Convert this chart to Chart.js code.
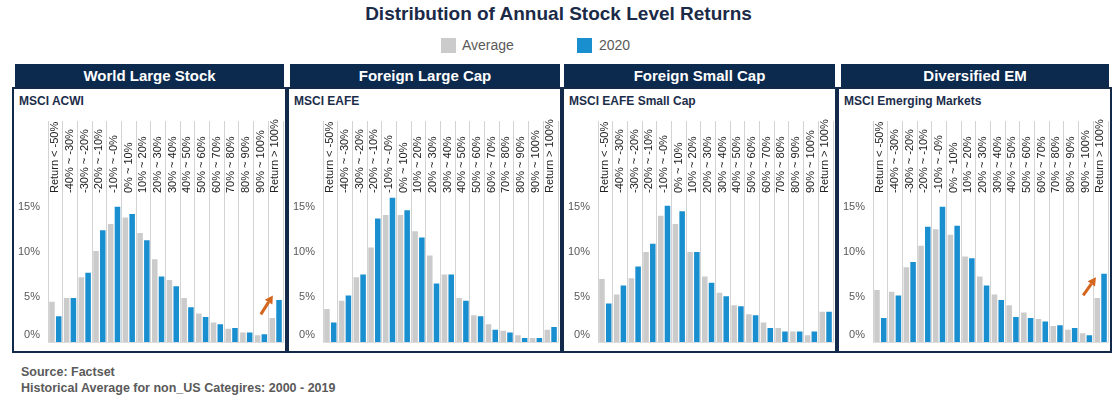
<!DOCTYPE html>
<html>
<head>
<meta charset="utf-8">
<script src="https://cdn.jsdelivr.net/npm/chart.js@4"></script>
<style>
  html, body { margin: 0; padding: 0; background: #fff; }
  body { width: 1117px; height: 399px; position: relative; overflow: hidden; font-family: 'Liberation Sans', Arial, sans-serif; }
  .abs { position: absolute; white-space: nowrap; }
  #title { left: 0; width: 1117px; top: 3px; text-align: center; font-size: 19px; font-weight: bold; color: #1b2a47; line-height: 22px; }
  .sw { position: absolute; width: 15px; height: 15px; top: 38px; }
  .lg { position: absolute; top: 37px; font-size: 14px; line-height: 17px; color: #5a5a5a; }
  .hdr { position: absolute; top: 64px; height: 23px; background: #0c2a4d; color: #fff; font-weight: bold; font-size: 15px; line-height: 24px; text-align: center; }
  .body { position: absolute; top: 87px; height: 262px; width: 271px; border: 2px solid #13294a; }
  .sub { position: absolute; top: 94px; font-size: 12px; font-weight: bold; line-height: 14px; color: #1c2d4a; }
  canvas.pc { position: absolute; top: 87px; }
  .foot { position: absolute; left: 21px; font-size: 12.5px; font-weight: bold; color: #5a5a5a; line-height: 15px; }
</style>
</head>
<body>
<div id="title" class="abs">Distribution of Annual Stock Level Returns</div>
<div class="sw" style="left:441px;background:#cbcbcb"></div>
<div class="lg" style="left:462px">Average</div>
<div class="sw" style="left:577px;background:#1a8fd0"></div>
<div class="lg" style="left:599px">2020</div>
<div id="panels"></div>
<div class="foot" style="top:365px">Source: Factset</div>
<div class="foot" style="top:381px">Historical Average for non_US Categires: 2000 - 2019</div>
<script>
// ---------- data ----------
const categories = ['Return < -50%','-40% ~ -30%','-30% ~ -20%','-20% ~ -10%','-10% ~ -0%','0% ~ 10%','10% ~ 20%','20% ~ 30%','30% ~ 40%','40% ~ 50%','50% ~ 60%','60% ~ 70%','70% ~ 80%','80% ~ 90%','90% ~ 100%','Return > 100%'];
const seriesNames = ['Average', '2020'];
const panelTitles = ['World Large Stock', 'Foreign Large Cap', 'Foreign Small Cap', 'Diversified EM'];
const panelIndexes = ['MSCI ACWI', 'MSCI EAFE', 'MSCI EAFE Small Cap', 'MSCI Emerging Markets'];
const worldAvg  = [4.5,4.9,7.2,10.1,13.1,13.8,12.1,9.2,6.9,4.9,3.2,2.2,1.5,1.1,0.8,2.7];
const world2020 = [2.9,4.9,7.7,12.4,15.0,14.2,11.3,7.3,6.2,3.9,2.8,2.0,1.6,1.1,0.9,4.7];
const eafeAvg   = [3.7,4.6,7.2,10.5,14.1,14.1,12.3,9.6,7.5,4.9,3.0,2.0,1.3,0.8,0.5,1.4];
const eafe2020  = [2.2,5.2,7.5,13.7,16.0,14.6,11.6,6.5,7.5,4.6,2.9,1.4,1.1,0.5,0.5,1.7];
const smallAvg  = [7.0,5.3,7.1,10.0,14.0,13.1,10.0,7.3,5.5,4.1,3.1,2.2,1.6,1.2,0.8,3.4];
const small2020 = [4.3,6.3,8.4,10.9,15.1,14.5,10.0,6.6,5.1,4.0,3.0,1.6,1.2,1.2,1.2,3.4];
const emAvg     = [5.8,5.6,8.3,10.7,12.5,11.9,9.5,7.3,5.3,4.1,3.3,2.6,1.8,1.4,1.0,4.9];
const em2020    = [2.7,5.2,8.9,12.8,15.0,12.9,9.3,6.3,4.7,2.8,2.7,2.3,1.9,1.6,0.8,7.6];
const yTicks = [0, 5, 10, 15];
// arrows: [fromIndex, fromValue, toIndex, toValue] (null = none)
const worldArrow = [13.99, 3.1, 14.81, 5.2];
const emArrow    = [13.81, 5.2, 14.68, 7.2];

const avgSeries = [worldAvg, eafeAvg, smallAvg, emAvg];
const newSeries = [world2020, eafe2020, small2020, em2020];
const arrows = [worldArrow, null, null, emArrow];

// ---------- layout ----------
const bodyLefts = [12, 287, 562, 837];
const hdrLefts = [15, 290, 564, 841];
const hdrWidths = [269, 270, 271, 268];
const FONT = "'Liberation Sans', Arial, sans-serif";
Chart.defaults.font.family = FONT;

const arrowPlugin = {
  id: 'arrowMark',
  afterDatasetsDraw(chart, args, opts) {
    const a = opts.arrow;
    if (!a) return;
    const xs = chart.scales.x, ys = chart.scales.y;
    const x1 = xs.getPixelForValue(a[0]), y1 = ys.getPixelForValue(a[1]);
    const x2 = xs.getPixelForValue(a[2]), y2 = ys.getPixelForValue(a[3]);
    const ang = Math.atan2(y2 - y1, x2 - x1);
    const hl = 8, hw = 4.5;
    const bx = x2 - hl * Math.cos(ang), by = y2 - hl * Math.sin(ang);
    const ctx = chart.ctx;
    ctx.save();
    ctx.strokeStyle = '#d4651d';
    ctx.fillStyle = '#d4651d';
    ctx.lineWidth = 3;
    ctx.beginPath(); ctx.moveTo(x1, y1); ctx.lineTo(bx, by); ctx.stroke();
    ctx.beginPath();
    ctx.moveTo(x2, y2);
    ctx.lineTo(bx + hw * Math.sin(ang), by - hw * Math.cos(ang));
    ctx.lineTo(bx - hw * Math.sin(ang), by + hw * Math.cos(ang));
    ctx.closePath(); ctx.fill();
    ctx.restore();
  }
};

const zeroLabelPlugin = {
  id: 'zeroLabelShift',
  beforeDraw(chart) {
    const s = chart.scales.y;
    const items = s.getLabelItems(chart.chartArea);
    items.forEach(it => {
      if (it.label === '0%' && !it._shifted) { it.options.translation[1] -= 7; it._shifted = true; }
    });
  }
};

const panelsDiv = document.getElementById('panels');
for (let p = 0; p < 4; p++) {
  const bl = bodyLefts[p];
  const hdr = document.createElement('div');
  hdr.className = 'hdr';
  hdr.style.left = hdrLefts[p] + 'px';
  hdr.style.width = hdrWidths[p] + 'px';
  hdr.textContent = panelTitles[p];
  panelsDiv.appendChild(hdr);
  const body = document.createElement('div');
  body.className = 'body';
  body.style.left = bl + 'px';
  panelsDiv.appendChild(body);
  const sub = document.createElement('div');
  sub.className = 'sub';
  sub.style.left = (bl + 7) + 'px';
  sub.textContent = panelIndexes[p];
  panelsDiv.appendChild(sub);
  const cv = document.createElement('canvas');
  cv.className = 'pc';
  cv.width = 275; cv.height = 270;
  cv.style.left = bl + 'px';
  cv.style.width = '275px'; cv.style.height = '270px';
  panelsDiv.appendChild(cv);

  new Chart(cv.getContext('2d'), {
    type: 'bar',
    data: {
      labels: categories,
      datasets: [
        { label: seriesNames[0], data: avgSeries[p], backgroundColor: '#cbcbcb', borderWidth: 0, categoryPercentage: 0.92, barPercentage: 0.82 },
        { label: seriesNames[1], data: newSeries[p], backgroundColor: '#1a8fd0', borderWidth: 0, categoryPercentage: 0.92, barPercentage: 0.82 }
      ]
    },
    plugins: [arrowPlugin, zeroLabelPlugin],
    options: {
      responsive: false,
      animation: false,
      devicePixelRatio: 1,
      layout: { padding: { left: 0, right: 4, top: 0, bottom: 9 } },
      plugins: {
        legend: { display: false },
        tooltip: { enabled: false },
        title: { display: false },
        arrowMark: { arrow: arrows[p] }
      },
      scales: {
        x: {
          position: 'top',
          offset: true,
          grid: { offset: true, color: '#d3d3d3', lineWidth: 1, drawTicks: true, tickLength: 74, drawOnChartArea: true },
          border: { display: false },
          ticks: { autoSkip: false, minRotation: 90, maxRotation: 90, padding: -72, labelOffset: 13, color: '#222', font: { size: 11 } },
          afterFit: s => { s.height = 108; }
        },
        y: {
          min: 0, max: 16.3,
          grid: { display: true, drawTicks: false, lineWidth: 1, color: c => (c.tick && c.tick.value === 0) ? '#dcdcdc' : 'rgba(0,0,0,0)' },
          border: { display: false },
          afterBuildTicks: s => { s.ticks = yTicks.map(v => ({ value: v })); },
          ticks: { padding: 8, color: '#595959', font: { size: 11 }, callback: v => v + '%' },
          afterFit: s => { s.width = 36; }
        }
      }
    }
  });
}
</script>
</body>
</html>
